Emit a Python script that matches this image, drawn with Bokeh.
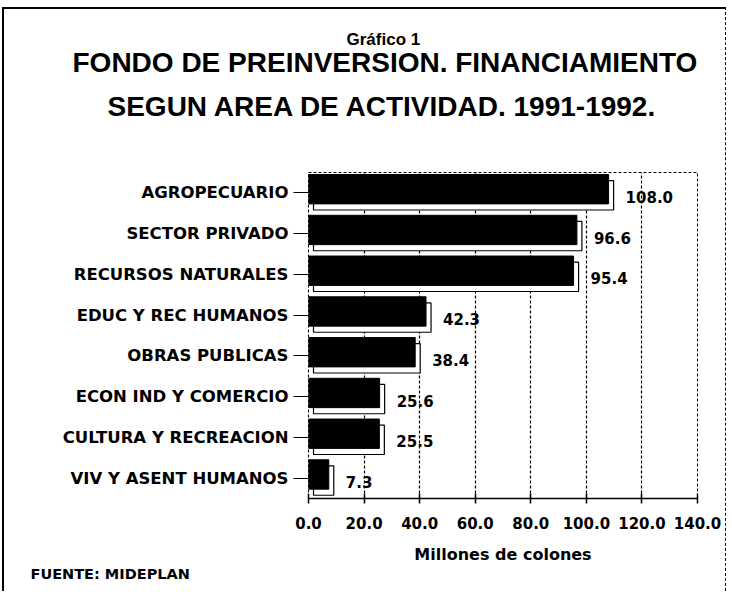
from bokeh.plotting import figure
from bokeh.models import (ColumnDataSource, FactorRange, Range1d, FixedTicker,
                          NumeralTickFormatter, LabelSet, Title)
from bokeh.core.properties import value
from bokeh.transform import dodge
from bokeh.embed import file_html
from bokeh.resources import INLINE

categories = ["AGROPECUARIO", "SECTOR PRIVADO", "RECURSOS NATURALES",
              "EDUC Y REC HUMANOS", "OBRAS PUBLICAS", "ECON IND Y COMERCIO",
              "CULTURA Y RECREACION", "VIV Y ASENT HUMANOS"]
values = [108.0, 96.6, 95.4, 42.3, 38.4, 25.6, 25.5, 7.3]
value_labels = ["108.0", "96.6", "95.4", "42.3", "38.4", "25.6", "25.5", "7.3"]
x_ticks = [0, 20, 40, 60, 80, 100, 120, 140]

FONT = "DejaVu Sans"
TFONT = "Liberation Sans"

src = ColumnDataSource(dict(cat=categories, val=values, lab=value_labels,
                            val_sh=[v + 1.8 for v in values]))

W, H = 724, 584
p = figure(width=W, height=H, output_backend="svg", toolbar_location=None,
           y_range=FactorRange(factors=list(reversed(categories))),
           x_range=Range1d(0, 140),
           min_border_left=304, min_border_right=31,
           min_border_top=163, min_border_bottom=95)
p.title.visible = False
p.background_fill_color = "white"
p.border_fill_color = "white"
p.styles = {"margin-left": "2px", "margin-top": "7px",
            "border-left": "2px solid black", "border-top": "2px solid black",
            "border-right": "1px dashed black"}

# frame
p.outline_line_color = "black"
p.outline_line_dash = "3 2"
p.outline_line_width = 1

# grid
p.ygrid.visible = False
p.xgrid.ticker = FixedTicker(ticks=x_ticks)
p.xgrid.grid_line_color = "black"
p.xgrid.grid_line_dash = "3 2"
p.xgrid.grid_line_width = 1.2

# shadow (3D extrusion) then front face
p.hbar(y=dodge("cat", -0.06, range=p.y_range), left=1.8, right="val_sh",
       height=0.72, source=src, fill_color="white", line_color="black",
       line_width=1.2)
p.hbar(y=dodge("cat", 0.09, range=p.y_range), left=0, right="val",
       height=0.72, source=src, fill_color="black", line_color="black")

labels = LabelSet(x="val", y=dodge("cat", -0.1, range=p.y_range), text="lab",
                  source=src, x_offset=17, text_baseline="middle",
                  text_font=value(FONT), text_font_style="bold",
                  text_font_size="15px", text_color="black")
p.add_layout(labels)

# axes
xa = p.xaxis[0]
xa.ticker = FixedTicker(ticks=x_ticks)
xa.formatter = NumeralTickFormatter(format="0.0")
xa.axis_line_width = 1.5
xa.major_tick_in = 5
xa.major_tick_out = 5
xa.major_tick_line_width = 1.5
xa.minor_tick_line_color = None
xa.major_label_text_font = FONT
xa.major_label_text_font_style = "bold"
xa.major_label_text_font_size = "15px"
xa.major_label_text_color = "black"
xa.major_label_standoff = 13
xa.axis_label = "Millones de colones"
xa.axis_label_text_font = FONT
xa.axis_label_text_font_style = "bold"
xa.axis_label_text_font_size = "16px"
xa.axis_label_text_color = "black"
xa.axis_label_standoff = 13

ya = p.yaxis[0]
ya.axis_line_color = None
ya.major_tick_in = 0
ya.major_tick_out = 15
ya.major_tick_line_width = 1.2
ya.major_label_text_font = FONT
ya.major_label_text_font_style = "bold"
ya.major_label_text_font_size = "16.5px"
ya.major_label_text_color = "black"
ya.major_label_standoff = 5

# titles: later additions sit further from the frame
p.add_layout(Title(text=" ", align="left", standoff=0, text_font=TFONT,
                   text_font_size="31px", text_color="white"), "above")
p.add_layout(Title(text="SEGUN AREA DE ACTIVIDAD. 1991-1992.", align="left",
                   offset=-201, standoff=27, text_font=TFONT,
                   text_font_style="bold", text_font_size="28px",
                   text_color="black"), "above")
p.add_layout(Title(text="FONDO DE PREINVERSION. FINANCIAMIENTO", align="left",
                   offset=-236, standoff=-4, text_font=TFONT,
                   text_font_style="bold", text_font_size="28px",
                   text_color="black"), "above")
p.add_layout(Title(text="Gráfico 1", align="left", offset=38,
                   standoff=-4, text_font=TFONT, text_font_style="bold",
                   text_font_size="17px", text_color="black"), "above")

p.add_layout(Title(text="FUENTE: MIDEPLAN", align="left", offset=-278,
                   standoff=-6, text_font=FONT, text_font_style="bold",
                   text_font_size="14.5px", text_color="black"), "below")

open("out.html", "w").write(file_html(p, INLINE))
